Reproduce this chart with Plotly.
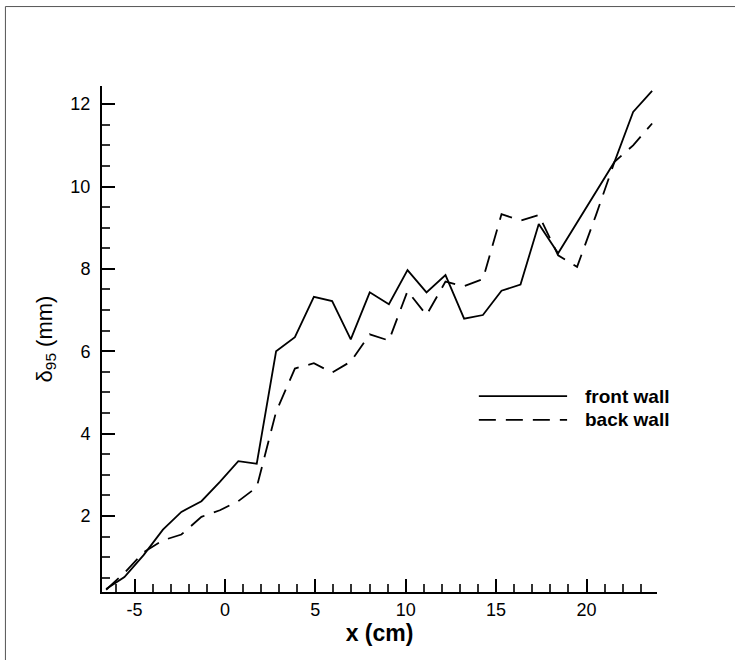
"""Boundary layer thickness along the channel, front vs back wall."""

import plotly.graph_objects as go

# Measurement stations (cm)
x_cm = [-6.57, -5.56, -4.50, -3.43, -2.41, -1.30, -0.28, 0.74, 1.76, 2.83,
        3.87, 4.92, 5.93, 6.96, 8.01, 9.07, 10.10, 11.15, 12.20, 13.23,
        14.27, 15.30, 16.35, 17.36, 18.43, 19.48, 20.52, 21.55, 22.58, 23.63]

# delta_95 (mm)
front_wall = [0.23, 0.52, 1.05, 1.67, 2.10, 2.36, 2.83, 3.33, 3.27, 6.00,
              6.34, 7.32, 7.22, 6.29, 7.43, 7.14, 7.97, 7.43, 7.85, 6.79,
              6.88, 7.47, 7.62, 9.09, 8.38, 9.12, 9.86, 10.60, 11.81, 12.32]
back_wall = [0.21, 0.62, 1.12, 1.41, 1.55, 1.98, 2.14, 2.36, 2.70, 4.53,
             5.58, 5.71, 5.48, 5.75, 6.41, 6.26, 7.46, 6.88, 7.69, 7.58,
             7.75, 9.33, 9.17, 9.31, 8.33, 8.05, 9.30, 10.60, 11.00, 11.53]

series_names = ["front wall", "back wall"]
x_ticks = [-5, 0, 5, 10, 15, 20]
x_ticktext = ["-5", "0", "5", "10", "15", "20"]  # plain hyphen, not unicode minus
y_ticks = [2, 4, 6, 8, 10, 12]

FONT = "Liberation Sans, Arial, sans-serif"
DASH = "17px,10px"

fig = go.Figure()
fig.add_trace(go.Scatter(
    x=x_cm, y=front_wall, mode="lines", name=series_names[0],
    line=dict(color="black", width=1.8),
    showlegend=False,
))
fig.add_trace(go.Scatter(
    x=x_cm, y=back_wall, mode="lines", name=series_names[1],
    line=dict(color="black", width=1.8, dash=DASH),
    showlegend=False,
))

# hand-made legend (long sample lines like the original)
legend_rows = [(0.387, "solid"), (0.340, DASH)]
for (ypos, dash), name in zip(legend_rows, series_names):
    fig.add_shape(type="line", xref="paper", yref="paper",
                  x0=0.679, x1=0.838, y0=ypos, y1=ypos,
                  line=dict(color="black", width=1.8, dash=dash))
    fig.add_annotation(xref="paper", yref="paper", x=0.867, y=ypos,
                       xanchor="left", yanchor="middle", showarrow=False,
                       text=f"<b>{name}</b>",
                       font=dict(family=FONT, size=19, color="black"))

# page frame (top and left edges)
fig.add_shape(type="line", xref="paper", yref="paper",
              x0=-0.174, x1=1.15, y0=1.157, y1=1.157,
              line=dict(color="#555555", width=1))
fig.add_shape(type="line", xref="paper", yref="paper",
              x0=-0.174, x1=-0.174, y0=1.157, y1=-0.15,
              line=dict(color="#555555", width=1))

axis_common = dict(
    showgrid=False, zeroline=False,
    showline=True, linecolor="black", linewidth=2,
    ticks="inside", ticklen=13, tickwidth=2, tickcolor="black",
    tickfont=dict(family=FONT, size=18, color="black"),
    mirror=False,
)

fig.update_layout(
    width=735, height=660,
    margin=dict(l=102, r=78, t=86, b=68),
    paper_bgcolor="white", plot_bgcolor="white",
    xaxis=dict(
        **axis_common,
        range=[-6.8, 23.9],
        tickmode="array", tickvals=x_ticks, ticktext=x_ticktext,
        minor=dict(dtick=1, ticks="inside", ticklen=8, tickwidth=1.5,
                   tickcolor="#333333"),
        title=dict(text="<b>x (cm)</b>", standoff=3,
                   font=dict(family=FONT, size=23, color="black")),
    ),
    yaxis=dict(
        **axis_common,
        range=[0.155, 12.44],
        tickmode="array", tickvals=y_ticks,
        minor=dict(dtick=0.5, ticks="inside", ticklen=8, tickwidth=1.5,
                   tickcolor="#333333"),
        ticklabelstandoff=6,
        title=dict(text="δ<sub>95</sub> (mm)", standoff=12,
                   font=dict(family=FONT, size=22, color="black")),
    ),
)

# drop the default page margin so the figure sits at the window corner
fig.write_html("out.html", config={"displayModeBar": False},
               post_script="document.body.style.margin = '0';")
